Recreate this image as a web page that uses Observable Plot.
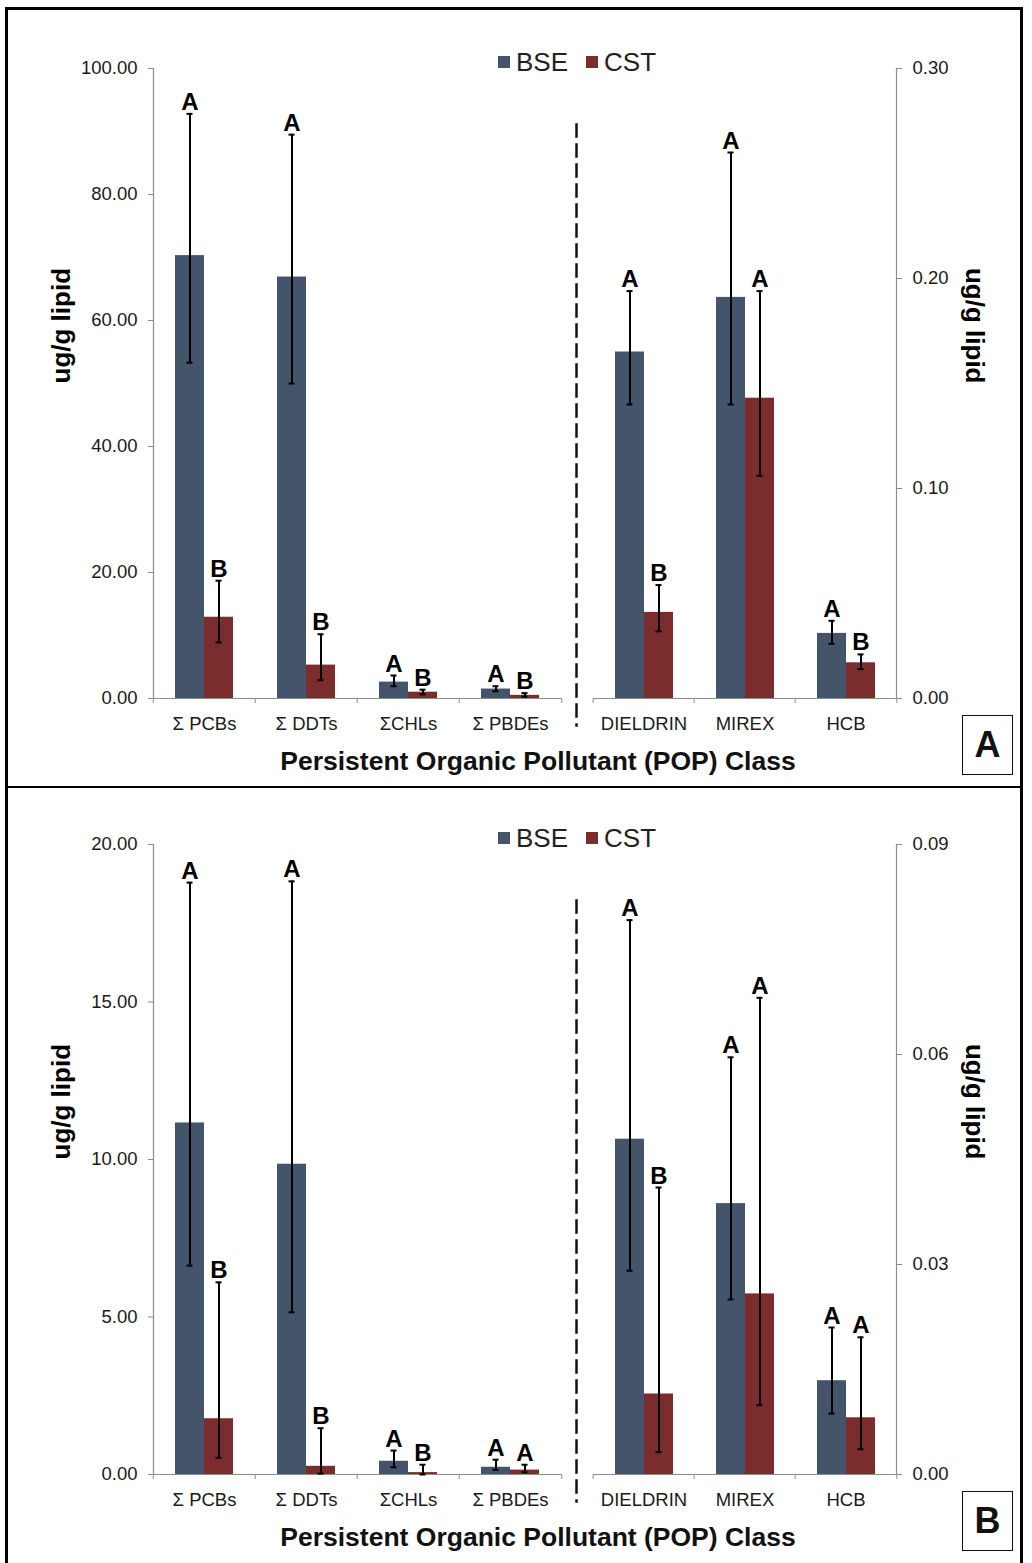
<!DOCTYPE html>
<html><head><meta charset="utf-8">
<script src="https://cdn.jsdelivr.net/npm/d3@7"></script>
<script src="https://cdn.jsdelivr.net/npm/@observablehq/plot@0.6"></script>
<style>
body{margin:0;background:#fff;font-family:'Liberation Sans',Arial,sans-serif;}
#page{position:relative;width:1032px;height:1563px;overflow:hidden;background:#fff}
.abs{position:absolute}
.legend{display:flex;align-items:center;font-size:26px;color:#222;line-height:28px;white-space:nowrap}
.legend .sw{display:inline-block;width:12px;height:12px;margin-right:6px}
.legend .item{display:flex;align-items:center;margin-right:18px}
.xtitle{font-size:26.5px;font-weight:bold;color:#111;line-height:26px;white-space:nowrap;transform:translateX(-50%)}
.plabel{border:1.5px solid #111;box-sizing:border-box;width:51px;height:60px;font-size:36px;font-weight:bold;display:flex;align-items:center;justify-content:center;color:#111;background:#fff}
</style></head><body><div id="page"></div>
<script>
// ---------- data ----------
const series = ["BSE", "CST"];
const colors = ["#44546A", "#7B2C2C"];
const leftCats = ["Σ PCBs", "Σ DDTs", "ΣCHLs", "Σ PBDEs"];
const rightCats = ["DIELDRIN", "MIREX", "HCB"];
const xTitle = "Persistent Organic Pollutant (POP) Class";
const yTitle = "ug/g lipid";

// Panel A (left axis ug/g lipid 0-100, right axis 0-0.30)
const aLeftTicks = [0, 20, 40, 60, 80, 100];
const aRightTicks = [0, 0.1, 0.2, 0.3];
const aLeftBSE = [70.3, 66.9, 2.6, 1.5];
const aLeftBSELo = [53.3, 50.0, 1.95, 1.15];
const aLeftBSEHi = [92.8, 89.5, 3.65, 1.95];
const aLeftBSESig = ["A", "A", "A", "A"];
const aLeftCST = [12.9, 5.3, 1.0, 0.5];
const aLeftCSTLo = [8.9, 2.9, 0.65, 0.3];
const aLeftCSTHi = [18.7, 10.2, 1.4, 0.85];
const aLeftCSTSig = ["B", "B", "B", "B"];
const aRightBSE = [0.165, 0.191, 0.031];
const aRightBSELo = [0.140, 0.140, 0.026];
const aRightBSEHi = [0.194, 0.260, 0.037];
const aRightBSESig = ["A", "A", "A"];
const aRightCST = [0.041, 0.143, 0.017];
const aRightCSTLo = [0.032, 0.106, 0.014];
const aRightCSTHi = [0.054, 0.194, 0.021];
const aRightCSTSig = ["B", "A", "B"];

// Panel B (left axis 0-20, right axis 0-0.09)
const bLeftTicks = [0, 5, 10, 15, 20];
const bRightTicks = [0, 0.03, 0.06, 0.09];
const bLeftBSE = [11.16, 9.85, 0.42, 0.23];
const bLeftBSELo = [6.63, 5.15, 0.23, 0.15];
const bLeftBSEHi = [18.79, 18.83, 0.76, 0.47];
const bLeftBSESig = ["A", "A", "A", "A"];
const bLeftCST = [1.77, 0.26, 0.06, 0.14];
const bLeftCSTLo = [0.53, 0.03, 0.0, 0.07];
const bLeftCSTHi = [6.1, 1.47, 0.31, 0.31];
const bLeftCSTSig = ["B", "B", "B", "A"];
const bRightBSE = [0.0479, 0.0387, 0.0134];
const bRightBSELo = [0.0291, 0.0250, 0.0087];
const bRightBSEHi = [0.0792, 0.0596, 0.0210];
const bRightBSESig = ["A", "A", "A"];
const bRightCST = [0.0115, 0.0258, 0.0081];
const bRightCSTLo = [0.0032, 0.0099, 0.0036];
const bRightCSTHi = [0.0410, 0.0681, 0.0196];
const bRightCSTSig = ["B", "A", "A"];

const panelNames = ["A", "B"];

// ---------- helpers ----------
function makeRows(cats, bse, bseLo, bseHi, bseSig, cst, cstLo, cstHi, cstSig) {
  const rows = [];
  cats.forEach((c, i) => {
    rows.push({cat: c, series: "BSE", value: bse[i], lo: bseLo[i], hi: bseHi[i], sig: bseSig[i]});
    rows.push({cat: c, series: "CST", value: cst[i], lo: cstLo[i], hi: cstHi[i], sig: cstSig[i]});
  });
  return rows;
}

const FONT = "'Liberation Sans', Arial, sans-serif";
const AXIS = "#8c8c8c";

function groupPlot({cats, rows, ticks, side, width, height, marginLeft, marginRight, marginTop, marginBottom, dashed}) {
  const bw = (width - marginLeft - marginRight) / cats.length;
  const marks = [
    Plot.ruleY([0], {stroke: AXIS, strokeWidth: 1.2}),
    Plot.barY(rows, {fx: "cat", x: "series", y: "value", fill: "series"}),
    Plot.ruleX(rows, {fx: "cat", x: "series", y1: "lo", y2: "hi", stroke: "#000", strokeWidth: 2}),
    Plot.tickY(rows, {fx: "cat", x: "series", y: "hi", stroke: "#000", strokeWidth: 2, insetLeft: 11.5, insetRight: 11.5}),
    Plot.tickY(rows, {fx: "cat", x: "series", y: "lo", stroke: "#000", strokeWidth: 2, insetLeft: 11.5, insetRight: 11.5}),
    Plot.text(rows, {fx: "cat", x: "series", y: "hi", text: "sig", lineAnchor: "bottom", dy: -4, fontSize: 24, fontWeight: "bold", fill: "#000"}),
    Plot.axisY({anchor: side, ticks, tickFormat: d3.format(".2f"), tickSize: 5, tickPadding: 11, fontSize: 18.5, stroke: AXIS, fill: "#1a1a1a", label: null}),
    Plot.frame({anchor: side, facetAnchor: side, stroke: AXIS, strokeWidth: 1.2}),
    Plot.axisFx({anchor: "bottom", tickSize: 5, tickFormat: () => "", dx: -bw / 2, stroke: AXIS, label: null}),
    Plot.axisFx({anchor: "bottom", ticks: [cats[cats.length - 1]], tickSize: 5, tickFormat: () => "", dx: bw / 2, stroke: AXIS, label: null}),
    Plot.axisFx({anchor: "bottom", tickSize: 0, tickPadding: 18, fontSize: 18.5, fill: "#1a1a1a", label: null}),
    Plot.text([0], {frameAnchor: side, facetAnchor: side, text: () => yTitle, rotate: side === "left" ? -90 : 90,
      dx: side === "left" ? -92 : 78, fontSize: 26, fontWeight: "bold", fill: "#000"})
  ];
  if (dashed) {
    marks.push(Plot.frame({anchor: "right", facetAnchor: "right", dx: 15, insetTop: 56, insetBottom: -27,
      stroke: "#111", strokeWidth: 2.5, strokeDasharray: "12,8"}));
  }
  return Plot.plot({
    width, height, marginLeft, marginRight, marginTop, marginBottom,
    style: {fontFamily: FONT, background: "transparent", overflow: "visible"},
    fx: {domain: cats, padding: 0, axis: null},
    x: {domain: series, paddingInner: 0, paddingOuter: 0.74, axis: null},
    y: {domain: [0, ticks[ticks.length - 1]], axis: null},
    color: {domain: series, range: colors},
    marks
  });
}

const page = document.getElementById("page");
function place(el, left, top) {
  el.classList.add("abs");
  el.style.left = left + "px";
  el.style.top = top + "px";
  page.appendChild(el);
  return el;
}

const panels = [
  {top: 0, marginTop: 68, height: 745,
   left: makeRows(leftCats, aLeftBSE, aLeftBSELo, aLeftBSEHi, aLeftBSESig, aLeftCST, aLeftCSTLo, aLeftCSTHi, aLeftCSTSig),
   right: makeRows(rightCats, aRightBSE, aRightBSELo, aRightBSEHi, aRightBSESig, aRightCST, aRightCSTLo, aRightCSTHi, aRightCSTSig),
   lt: aLeftTicks, rt: aRightTicks},
  {top: 780, marginTop: 64, height: 741,
   left: makeRows(leftCats, bLeftBSE, bLeftBSELo, bLeftBSEHi, bLeftBSESig, bLeftCST, bLeftCSTLo, bLeftCSTHi, bLeftCSTSig),
   right: makeRows(rightCats, bRightBSE, bRightBSELo, bRightBSEHi, bRightBSESig, bRightCST, bRightCSTLo, bRightCSTHi, bRightCSTSig),
   lt: bLeftTicks, rt: bRightTicks}
];

panels.forEach((p, k) => {
  const lp = groupPlot({cats: leftCats, rows: p.left, ticks: p.lt, side: "left", width: 580, height: p.height,
    marginLeft: 152, marginRight: 18, marginTop: p.marginTop, marginBottom: 47, dashed: true});
  place(lp, 0, p.top);
  const rp = groupPlot({cats: rightCats, rows: p.right, ticks: p.rt, side: "right", width: 452, height: p.height,
    marginLeft: 12, marginRight: 135, marginTop: p.marginTop, marginBottom: 47, dashed: false});
  place(rp, 580, p.top);

  const frameBottom = p.top + p.height - 47;
  const frameTop = p.top + p.marginTop;

  // legend
  const lg = document.createElement("div");
  lg.className = "legend";
  series.forEach((s, i) => {
    const it = document.createElement("span");
    it.className = "item";
    const sw = document.createElement("span");
    sw.className = "sw";
    sw.style.background = colors[i];
    it.appendChild(sw);
    it.appendChild(document.createTextNode(s));
    lg.appendChild(it);
  });
  place(lg, 498, frameTop - 20);

  // x title
  const xt = document.createElement("div");
  xt.className = "xtitle";
  xt.textContent = xTitle;
  place(xt, 538, frameBottom + 50);

  // panel label
  const pl = document.createElement("div");
  pl.className = "plabel";
  pl.textContent = panelNames[k];
  place(pl, 962, frameBottom + 17);
});

// outer border and divider
const border = document.createElement("div");
border.style.cssText = "border:3px solid #000;box-sizing:border-box;width:1018px;height:1600px;pointer-events:none";
place(border, 5, 7);
const divider = document.createElement("div");
divider.style.cssText = "background:#000;width:1018px;height:2px";
place(divider, 5, 786);
</script>
</body></html>
